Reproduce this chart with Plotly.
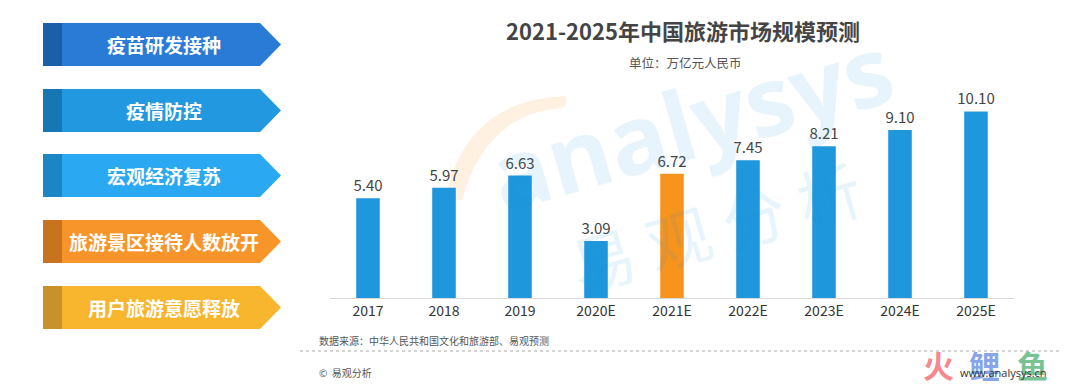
import plotly.graph_objects as go

categories = ["2017", "2018", "2019", "2020E", "2021E", "2022E", "2023E", "2024E", "2025E"]
values = [5.40, 5.97, 6.63, 3.09, 6.72, 7.45, 8.21, 9.10, 10.10]
labels = ["5.40", "5.97", "6.63", "3.09", "6.72", "7.45", "8.21", "9.10", "10.10"]
highlight = "2021E"
factors = ["疫苗研发接种", "疫情防控", "宏观经济复苏", "旅游景区接待人数放开", "用户旅游意愿释放"]

W, H = 1080, 388
BLUE = "#1f97dd"
ORANGE = "#f7941d"
CJK = "Noto Sans CJK SC"

colors = [ORANGE if c == highlight else BLUE for c in categories]

fig = go.Figure()
fig.add_trace(go.Bar(
    x=categories, y=values, marker=dict(color=colors, line=dict(width=0)),
    width=0.31, text=labels, textposition="outside", cliponaxis=False,
    constraintext="none",
    textfont=dict(family=CJK, size=15, color="#444444"), hoverinfo="skip",
))

def px(x):
    return x / W

def py(y):
    return 1 - y / H

shapes = []
annotations = []

# left factor arrows
arrow_styles = [
    ("#2a7bd6", "#1b5ea9"),
    ("#2198e0", "#1677b5"),
    ("#2aa9f2", "#1a86c6"),
    ("#f7952b", "#c8731d"),
    ("#f8b52e", "#c8912a"),
]
tops = [23, 89, 154, 220, 286]
hgt = 43
x0, xs, xr, xt = 43, 62, 260, 281
for name, (col, dark), t in zip(factors, arrow_styles, tops):
    b = t + hgt
    m = t + hgt / 2
    path = (f"M {px(x0)} {py(t)} L {px(xr)} {py(t)} L {px(xt)} {py(m)} "
            f"L {px(xr)} {py(b)} L {px(x0)} {py(b)} Z")
    shapes.append(dict(type="path", xref="paper", yref="paper", path=path,
                       fillcolor=col, line=dict(width=0), layer="above"))
    shapes.append(dict(type="rect", xref="paper", yref="paper",
                       x0=px(x0), x1=px(xs), y0=py(b), y1=py(t),
                       fillcolor=dark, line=dict(width=0), layer="above"))
    annotations.append(dict(xref="paper", yref="paper", x=px(164), y=py(m),
                            text=f"<b>{name}</b>", showarrow=False,
                            font=dict(family=CJK, size=19, color="white"),
                            xanchor="center", yanchor="middle"))

# title & subtitle
annotations.append(dict(xref="paper", yref="paper", x=px(683), y=py(30),
                        text="<b>2021-2025年中国旅游市场规模预测</b>", showarrow=False,
                        font=dict(family=CJK, size=22, color="#444444"),
                        xanchor="center", yanchor="middle"))
annotations.append(dict(xref="paper", yref="paper", x=px(685), y=py(63),
                        text="单位：万亿元人民币", showarrow=False,
                        font=dict(family=CJK, size=12.5, color="#555555"),
                        xanchor="center", yanchor="middle"))

# source & copyright
annotations.append(dict(xref="paper", yref="paper", x=px(317), y=py(340),
                        text="数据来源：中华人民共和国文化和旅游部、易观预测", showarrow=False,
                        font=dict(family=CJK, size=10, color="#555555"),
                        xanchor="left", yanchor="middle"))
shapes.append(dict(type="line", xref="paper", yref="paper", x0=px(300), x1=px(1062),
                   y0=py(351), y1=py(351), line=dict(color="#aaaaaa", width=1, dash="dot")))
annotations.append(dict(xref="paper", yref="paper", x=px(317), y=py(372),
                        text="©  易观分析", showarrow=False,
                        font=dict(family=CJK, size=10, color="#555555"),
                        xanchor="left", yanchor="middle"))

# faint watermark
annotations.append(dict(xref="paper", yref="paper", x=px(690), y=py(120),
                        text="<b>analysys</b>", showarrow=False, textangle=-16,
                        font=dict(family="Open Sans", size=96, color="rgba(30,150,220,0.10)"),
                        xanchor="center", yanchor="middle"))
annotations.append(dict(xref="paper", yref="paper", x=px(715), y=py(225),
                        text="易 观 分 析", showarrow=False, textangle=-16,
                        font=dict(family=CJK, size=64, color="rgba(30,150,220,0.10)"),
                        xanchor="center", yanchor="middle"))
shapes.append(dict(type="path", xref="paper", yref="paper",
                   path=(f"M {px(445)} {py(200)} Q {px(465)} {py(100)} {px(565)} {py(96)} "
                         f"Q {px(570)} {py(106)} {px(560)} {py(108)} "
                         f"Q {px(485)} {py(115)} {px(462)} {py(200)} Z"),
                   fillcolor="rgba(247,148,29,0.13)", line=dict(width=0), layer="below"))

# bottom-right site mark
for ch, col, xx in [("火", "rgba(245,95,105,0.75)", 938), ("鲤", "rgba(95,135,225,0.75)", 984),
                    ("鱼", "rgba(75,175,115,0.75)", 1032)]:
    annotations.append(dict(xref="paper", yref="paper", x=px(xx), y=py(364),
                            text=f"<b>{ch}</b>", showarrow=False,
                            font=dict(family=CJK, size=31, color=col),
                            xanchor="center", yanchor="middle"))
annotations.append(dict(xref="paper", yref="paper", x=px(1003), y=py(372),
                        text="www.analysys.cn", showarrow=False,
                        font=dict(family="Open Sans", size=11, color="#333333"),
                        xanchor="center", yanchor="middle"))

fig.update_layout(
    width=W, height=H, margin=dict(l=0, r=0, t=0, b=0),
    paper_bgcolor="white", plot_bgcolor="rgba(0,0,0,0)",
    showlegend=False, bargap=0.6,
    shapes=shapes, annotations=annotations,
    xaxis=dict(domain=[px(330), px(1014)], showline=True, linecolor="#d9d9d9", linewidth=1,
               ticks="", showgrid=False,
               tickfont=dict(family=CJK, size=14, color="#333333"), fixedrange=True),
    yaxis=dict(domain=[py(298), py(80)], range=[0, 11.8], visible=False, fixedrange=True),
)

fig.write_html("out.html", config={"displayModeBar": False},
               post_script="document.body.style.margin='0';document.body.style.overflow='hidden';")
